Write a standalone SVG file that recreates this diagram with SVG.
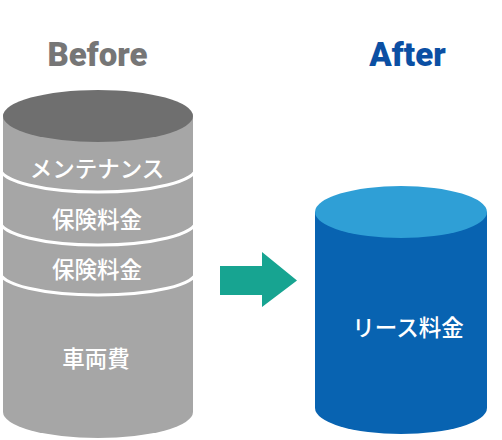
<svg xmlns="http://www.w3.org/2000/svg" width="502" height="440" viewBox="0 0 502 440">
<style>
.title{font-family:Roboto,"Liberation Sans",sans-serif;font-weight:900;font-size:33px;text-anchor:middle}
.lbl{font-family:"Noto Sans CJK JP","Noto Sans",sans-serif;font-weight:500;font-size:22.5px;fill:#ffffff;text-anchor:middle;dominant-baseline:central}
.band{fill:none;stroke:#ffffff;stroke-width:3}
</style>
<rect width="502" height="440" fill="#ffffff"/>
<text class="title" x="97.5" y="66" fill="#767676">Before</text>
<text class="title" x="407.5" y="66" fill="#0b4fa3">After</text>
<g id="before">
<path d="M3,116 L3,412 A95,26 0 0 0 193,412 L193,116 Z" fill="#a6a6a6"/>
<ellipse cx="98" cy="116" rx="95" ry="26" fill="#6f6f6f"/>
<path class="band" d="M0,168 A98,24 0 0 0 196,168"/>
<path class="band" d="M0,221 A98,24 0 0 0 196,221"/>
<path class="band" d="M0,272 A98,23 0 0 0 196,272"/>
<text class="lbl" x="97" y="167">メンテナンス</text>
<text class="lbl" x="97" y="218">保険料金</text>
<text class="lbl" x="97" y="268">保険料金</text>
<text class="lbl" x="96" y="357">車両費</text>
</g>
<g id="connectors">
<polygon points="220,266 262,266 262,252 297,280.5 262,307 262,295 220,295" fill="#17a491"/>
</g>
<g id="after">
<path d="M315,212 L315,408 A86,26 0 0 0 487,408 L487,212 Z" fill="#0863b1"/>
<ellipse cx="401" cy="212" rx="86" ry="26" fill="#2f9fd6"/>
<text class="lbl" x="408" y="326">リース料金</text>
</g>
</svg>
